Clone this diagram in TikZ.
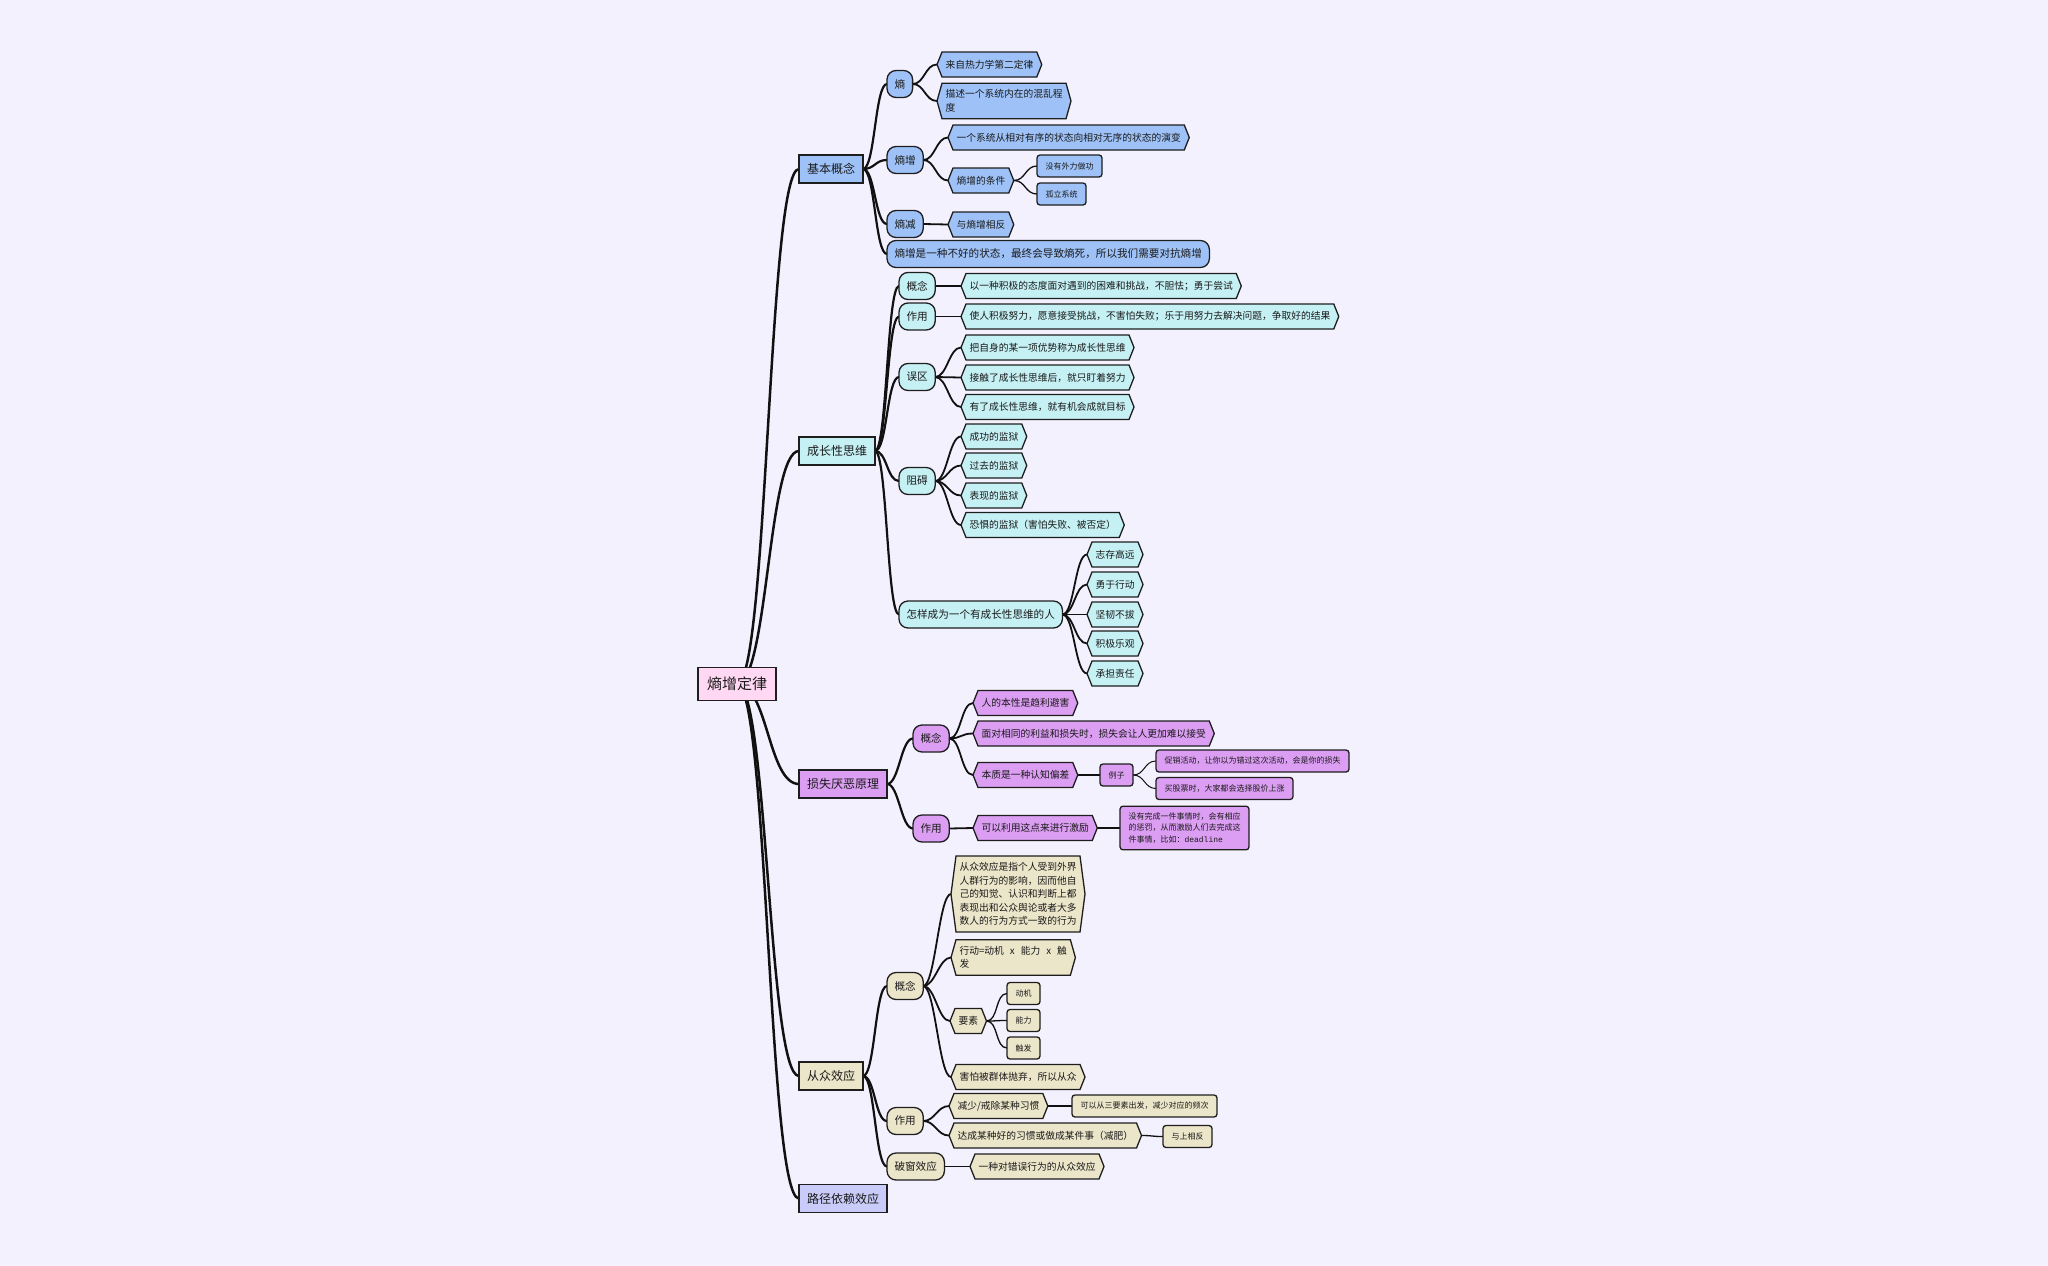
\documentclass[tikz,border=0pt]{standalone}
\usepackage{fontspec}
\setmainfont{Noto Sans CJK SC}
\setmonofont{Liberation Mono}
\usetikzlibrary{backgrounds}
\definecolor{bgc}{HTML}{F4F1FE}
\definecolor{rootc}{HTML}{FFD8F4}
\definecolor{cA}{HTML}{9EC2F7}
\definecolor{cB}{HTML}{C5F0F4}
\definecolor{cC}{HTML}{DB9EF2}
\definecolor{cD}{HTML}{EBE5C9}
\definecolor{cE}{HTML}{C9CCF9}
\definecolor{bordc}{HTML}{1E1E1E}
\definecolor{edgec}{HTML}{111111}
\definecolor{txtc}{HTML}{1A1A1A}
\makeatletter
\newdimen\hxtip \hxtip=5pt
\newdimen\hxXa \newdimen\hxXb \newdimen\hxXc \newdimen\hxXd
\newdimen\hxYa \newdimen\hxYb \newdimen\hxYc
\pgfdeclareshape{hexbox}{%
  \inheritsavedanchors[from=rectangle]%
  \inheritanchorborder[from=rectangle]%
  \inheritanchor[from=rectangle]{center}%
  \inheritanchor[from=rectangle]{north}%
  \inheritanchor[from=rectangle]{south}%
  \inheritanchor[from=rectangle]{north east}%
  \inheritanchor[from=rectangle]{north west}%
  \inheritanchor[from=rectangle]{south east}%
  \inheritanchor[from=rectangle]{south west}%
  \inheritanchor[from=rectangle]{base}%
  \inheritanchor[from=rectangle]{mid}%
  \anchor{east}{%
    \pgf@process{\southwest}\hxYa=\pgf@y
    \pgf@process{\northeast}%
    \pgf@y=.5\pgf@y \advance\pgf@y by .5\hxYa
    \advance\pgf@x by \hxtip}%
  \anchor{west}{%
    \pgf@process{\northeast}\hxYa=\pgf@y
    \pgf@process{\southwest}%
    \pgf@y=.5\pgf@y \advance\pgf@y by .5\hxYa
    \advance\pgf@x by -\hxtip}%
  \backgroundpath{%
    \pgf@process{\southwest}\hxXa=\pgf@x \hxYa=\pgf@y
    \pgf@process{\northeast}\hxXb=\pgf@x \hxYb=\pgf@y
    \hxYc=.5\hxYa \advance\hxYc by .5\hxYb
    \hxXc=\hxXb \advance\hxXc by \hxtip
    \hxXd=\hxXa \advance\hxXd by -\hxtip
    \pgfpathmoveto{\pgfqpoint{\hxXa}{\hxYb}}%
    \pgfpathlineto{\pgfqpoint{\hxXb}{\hxYb}}%
    \pgfpathlineto{\pgfqpoint{\hxXc}{\hxYc}}%
    \pgfpathlineto{\pgfqpoint{\hxXb}{\hxYa}}%
    \pgfpathlineto{\pgfqpoint{\hxXa}{\hxYa}}%
    \pgfpathlineto{\pgfqpoint{\hxXd}{\hxYc}}%
    \pgfpathclose
  }%
}
\makeatother
\tikzset{
  basen/.style={draw=bordc, line width=1.3pt, text=txtc, anchor=west, outer sep=0pt},
  rootn/.style={basen, fill=rootc, font=\fontsize{15}{18}\selectfont, inner xsep=9pt, inner ysep=3pt, minimum height=33pt},
  lone/.style={basen, font=\fontsize{12}{15}\selectfont, inner xsep=8pt, inner ysep=3pt, minimum height=28pt},
  pill/.style={basen, rounded corners=9pt, font=\fontsize{10.6}{13}\selectfont, inner xsep=7.5pt, inner ysep=3pt, minimum height=27pt},
  hexn/.style={basen, shape=hexbox, font=\fontsize{9.75}{13.5}\selectfont, inner xsep=3.5pt, inner ysep=6.5pt, minimum height=25pt, align=left},
  leaf/.style={basen, rounded corners=3pt, font=\fontsize{8}{11.5}\selectfont, inner xsep=8.5pt, inner ysep=6.5pt, minimum height=22pt, align=left},
  mm/.style={to path={.. controls +(#1,0) and +(-#1,0) .. (\tikztotarget)}},
  edz/.style={draw=edgec, line width=2.5pt, line cap=round, mm=31},
  edo/.style={draw=edgec, line width=2.2pt, line cap=round, mm=12},
  edt/.style={draw=edgec, line width=1.8pt, line cap=round, mm=12},
  edh/.style={draw=edgec, line width=1.3pt, line cap=round, mm=12},
  edf/.style={draw=edgec, line width=1.0pt, line cap=round, mm=12},
}
\begin{document}
\begin{tikzpicture}[x=1pt,y=-1pt]
\useasboundingbox (0,0) rectangle (2048,1266);
\begin{scope}[on background layer]
\fill[bgc] (0,0) rectangle (2048,1266);
\end{scope}

% root
\node[rootn] (root) at (698,684) {熵增定律};

% ---------- branch 1
\node[lone, fill=cA] (b1) at (799,169) {基本概念};
\node[pill, fill=cA] (a1) at (887,84) {熵};
\node[hexn, fill=cA] (a11) at (937,64.5) {来自热力学第二定律};
\node[hexn, fill=cA] (a12) at (937,101) {描述一个系统内在的混乱程\\度};
\node[pill, fill=cA] (a2) at (887,160) {熵增};
\node[hexn, fill=cA] (a21) at (948,137.5) {一个系统从相对有序的状态向相对无序的状态的演变};
\node[hexn, fill=cA] (a22) at (948,180.5) {熵增的条件};
\node[leaf, fill=cA] (a221) at (1037,166) {没有外力做功};
\node[leaf, fill=cA] (a222) at (1037,194) {孤立系统};
\node[pill, fill=cA] (a3) at (887,224) {熵减};
\node[hexn, fill=cA] (a31) at (948,224.5) {与熵增相反};
\node[pill, fill=cA] (a4) at (887,254) {熵增是一种不好的状态，最终会导致熵死，所以我们需要对抗熵增};

% ---------- branch 2
\node[lone, fill=cB] (b2) at (799,451) {成长性思维};
\node[pill, fill=cB] (c1) at (899,286) {概念};
\node[hexn, fill=cB] (c11) at (961,286) {以一种积极的态度面对遇到的困难和挑战，不胆怯；勇于尝试};
\node[pill, fill=cB] (c2) at (899,316.5) {作用};
\node[hexn, fill=cB] (c21) at (961,316.5) {使人积极努力，愿意接受挑战，不害怕失败；乐于用努力去解决问题，争取好的结果};
\node[pill, fill=cB] (c3) at (899,377) {误区};
\node[hexn, fill=cB] (c31) at (961,347.5) {把自身的某一项优势称为成长性思维};
\node[hexn, fill=cB] (c32) at (961,377.5) {接触了成长性思维后，就只盯着努力};
\node[hexn, fill=cB] (c33) at (961,407) {有了成长性思维，就有机会成就目标};
\node[pill, fill=cB] (c4) at (899,481) {阻碍};
\node[hexn, fill=cB] (c41) at (961,436.5) {成功的监狱};
\node[hexn, fill=cB] (c42) at (961,465.5) {过去的监狱};
\node[hexn, fill=cB] (c43) at (961,495.5) {表现的监狱};
\node[hexn, fill=cB] (c44) at (961,525) {恐惧的监狱（害怕失败、被否定）};
\node[pill, fill=cB] (c5) at (899,614.5) {怎样成为一个有成长性思维的人};
\node[hexn, fill=cB] (c51) at (1087,554.5) {志存高远};
\node[hexn, fill=cB] (c52) at (1087,584.5) {勇于行动};
\node[hexn, fill=cB] (c53) at (1087,614.5) {坚韧不拔};
\node[hexn, fill=cB] (c54) at (1087,643.5) {积极乐观};
\node[hexn, fill=cB] (c55) at (1087,673.5) {承担责任};

% ---------- branch 3
\node[lone, fill=cC] (b3) at (799,784) {损失厌恶原理};
\node[pill, fill=cC] (d1) at (913,738.5) {概念};
\node[hexn, fill=cC] (d11) at (973,703) {人的本性是趋利避害};
\node[hexn, fill=cC] (d12) at (973,733.5) {面对相同的利益和损失时，损失会让人更加难以接受};
\node[hexn, fill=cC] (d13) at (973,775) {本质是一种认知偏差};
\node[leaf, fill=cC] (d131) at (1100,775) {例子};
\node[leaf, fill=cC] (d1311) at (1156,761) {促销活动，让你以为错过这次活动，会是你的损失};
\node[leaf, fill=cC] (d1312) at (1156,788.5) {买股票时，大家都会选择股价上涨};
\node[pill, fill=cC] (d2) at (913,828.5) {作用};
\node[hexn, fill=cC] (d21) at (973,828) {可以利用这点来进行激励};
\node[leaf, fill=cC] (d211) at (1120,828) {没有完成一件事情时，会有相应\\的惩罚，从而激励人们去完成这\\件事情，比如：\texttt{deadline}};

% ---------- branch 4
\node[lone, fill=cD] (b4) at (799,1076) {从众效应};
\node[pill, fill=cD] (e1) at (887,986) {概念};
\node[hexn, fill=cD] (e11) at (951,894) {从众效应是指个人受到外界\\人群行为的影响，因而他自\\己的知觉、认识和判断上都\\表现出和公众舆论或者大多\\数人的行为方式一致的行为};
\node[hexn, fill=cD] (e12) at (951,957.5) {行动=动机\hspace{6pt}x\hspace{6pt}能力\hspace{6pt}x\hspace{6pt}触\\发};
\node[hexn, fill=cD] (e13) at (950,1021) {要素};
\node[leaf, fill=cD] (e131) at (1007,993.5) {动机};
\node[leaf, fill=cD] (e132) at (1007,1020.5) {能力};
\node[leaf, fill=cD] (e133) at (1007,1048) {触发};
\node[hexn, fill=cD] (e14) at (951,1077) {害怕被群体抛弃，所以从众};
\node[pill, fill=cD] (e2) at (887,1121) {作用};
\node[hexn, fill=cD] (e21) at (949,1106) {减少/戒除某种习惯};
\node[leaf, fill=cD] (e211) at (1072,1106) {可以从三要素出发，减少对应的频次};
\node[hexn, fill=cD] (e22) at (949,1135.5) {达成某种好的习惯或做成某件事（减肥）};
\node[leaf, fill=cD] (e221) at (1163,1136.5) {与上相反};
\node[pill, fill=cD] (e3) at (887,1166.5) {破窗效应};
\node[hexn, fill=cD] (e31) at (970,1166.5) {一种对错误行为的从众效应};

% ---------- branch 5
\node[lone, fill=cE] (b5) at (799,1198.5) {路径依赖效应};

% ---------- edges
\begin{scope}[on background layer]
\foreach \t in {b1,b2,b3,b4,b5} \draw[edz] (root.center) to (\t.west);
\foreach \t in {a1,a2,a3,a4} \draw[edo] (b1.east) to (\t.west);
\foreach \t in {a11,a12} \draw[edt] (a1.east) to (\t.west);
\foreach \t in {a21,a22} \draw[edt] (a2.east) to (\t.west);
\foreach \t in {a221,a222} \draw[edh] (a22.east) to (\t.west);
\draw[edt] (a3.east) to (a31.west);
\foreach \t in {c1,c2,c3,c4,c5} \draw[edo] (b2.east) to (\t.west);
\draw[edt] (c1.east) to (c11.west);
\draw[edt] (c2.east) to (c21.west);
\foreach \t in {c31,c32,c33} \draw[edt] (c3.east) to (\t.west);
\foreach \t in {c41,c42,c43,c44} \draw[edt] (c4.east) to (\t.west);
\foreach \t in {c51,c52,c53,c54,c55} \draw[edt] (c5.east) to (\t.west);
\foreach \t in {d1,d2} \draw[edo] (b3.east) to (\t.west);
\foreach \t in {d11,d12,d13} \draw[edt] (d1.east) to (\t.west);
\draw[edh] (d13.east) to (d131.west);
\foreach \t in {d1311,d1312} \draw[edf] (d131.east) to (\t.west);
\draw[edt] (d2.east) to (d21.west);
\draw[edh] (d21.east) to (d211.west);
\foreach \t in {e1,e2,e3} \draw[edo] (b4.east) to (\t.west);
\foreach \t in {e11,e12,e13,e14} \draw[edt] (e1.east) to (\t.west);
\foreach \t in {e131,e132,e133} \draw[edh] (e13.east) to (\t.west);
\foreach \t in {e21,e22} \draw[edt] (e2.east) to (\t.west);
\draw[edh] (e21.east) to (e211.west);
\draw[edh] (e22.east) to (e221.west);
\draw[edt] (e3.east) to (e31.west);
\end{scope}
\end{tikzpicture}
\end{document}
